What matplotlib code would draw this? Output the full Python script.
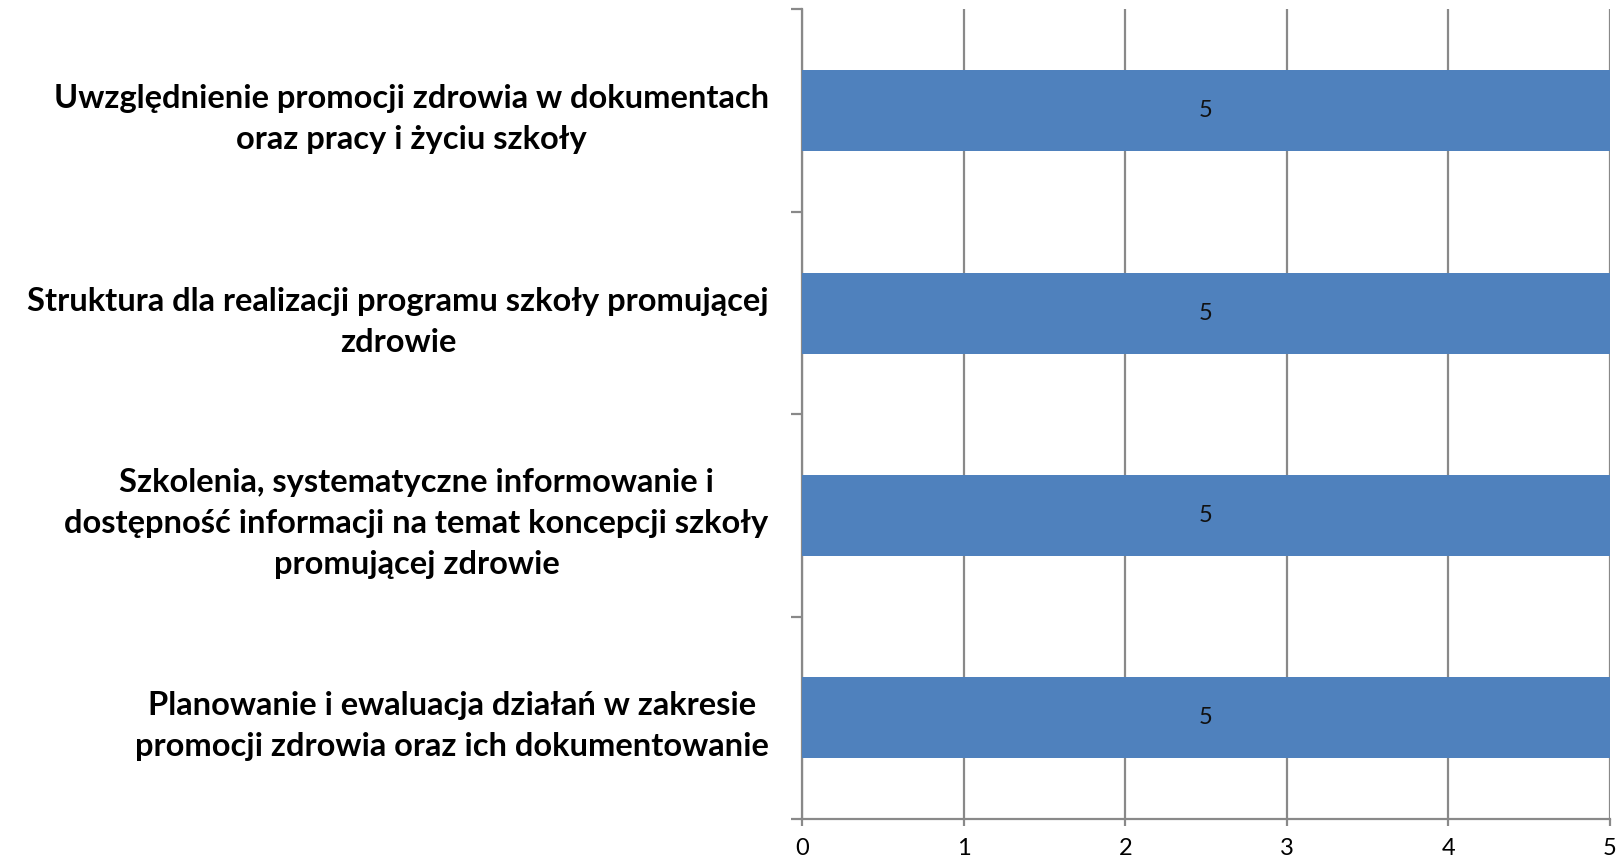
import matplotlib
matplotlib.use("Agg")
import matplotlib.pyplot as plt
from matplotlib.ticker import FixedLocator

categories = [
    "Planowanie i ewaluacja działań w zakresie\npromocji zdrowia oraz ich dokumentowanie",
    "Szkolenia, systematyczne informowanie i\ndostępność informacji na temat koncepcji szkoły\npromującej zdrowie",
    "Struktura dla realizacji programu szkoły promującej\nzdrowie",
    "Uwzględnienie promocji zdrowia w dokumentach\noraz pracy i życiu szkoły",
]
values = [5, 5, 5, 5]
xticks = [0, 1, 2, 3, 4, 5]

plt.rcParams['font.family'] = ['Lato', 'DejaVu Sans']

fig = plt.figure(figsize=(16.18, 8.63), dpi=100)
ax = fig.add_axes([802/1618, 1-819/863, (1610-802)/1618, (819-9.5)/863])

grid_color = '#898989'
ypos = list(range(len(categories)))
ax.barh(ypos, values, height=0.4, color='#4F81BD', zorder=3)
for y, v in zip(ypos, values):
    ax.text(v/2, y, str(v), ha='center', va='center', fontsize=17, color='#111111', zorder=4)

ax.set_xlim(0, 5)
ax.set_ylim(-0.5, len(categories)-0.5)
ax.xaxis.set_major_locator(FixedLocator(xticks))
ax.set_xticklabels([str(t) for t in xticks], fontsize=17)
ax.grid(axis='x', color=grid_color, linewidth=1.6, zorder=0)

ax.set_yticks(ypos)
ax.set_yticklabels(categories, fontsize=23.5, fontweight='bold', multialignment='center',
                   ha='right', linespacing=1.5)
ax.yaxis.set_minor_locator(FixedLocator([i - 0.5 for i in range(len(categories)+1)]))
ax.tick_params(axis='y', which='major', length=0, pad=24)
ax.tick_params(axis='y', which='minor', length=8, width=1.6, color=grid_color)
ax.tick_params(axis='x', which='major', length=5, width=1.6, color=grid_color, pad=8.5)

for s in ['top', 'right']:
    ax.spines[s].set_visible(False)
for s in ['left', 'bottom']:
    ax.spines[s].set_color(grid_color)
    ax.spines[s].set_linewidth(1.6)

fig.savefig('out.png', dpi=100)
